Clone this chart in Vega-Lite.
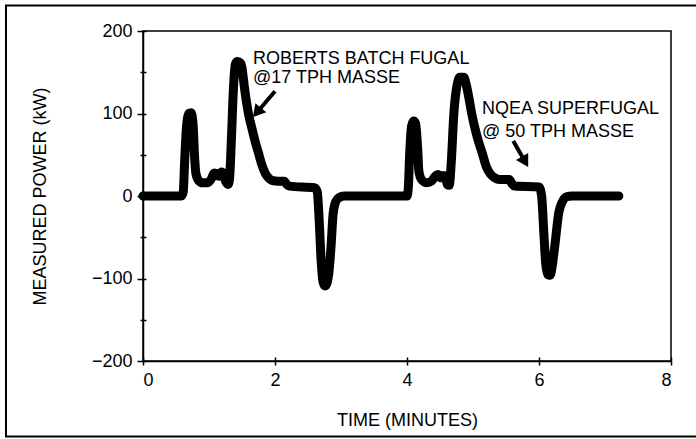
{
  "$schema": "https://vega.github.io/schema/vega-lite/v6.json",
  "width": 528,
  "height": 330,
  "autosize": {"type": "none"},
  "padding": {"left": 143, "top": 31, "right": 25, "bottom": 78},
  "background": "white",
  "config": {
    "font": "Liberation Sans",
    "view": {"stroke": "black", "strokeWidth": 1.5},
    "axis": {"domainColor": "black", "domainWidth": 1.5, "tickColor": "black", "tickWidth": 1.5, "labelColor": "black", "titleColor": "black", "grid": false, "labelFont": "Liberation Sans", "titleFont": "Liberation Sans", "titleFontWeight": "normal"}
  },
  "datasets": {
    "power": [
      {"t": 0, "kw": 0}, {"t": 0.58, "kw": 0}, {"t": 0.61, "kw": 5}, {"t": 0.63, "kw": 40}, {"t": 0.66, "kw": 85},
      {"t": 0.69, "kw": 100}, {"t": 0.73, "kw": 101}, {"t": 0.76, "kw": 85}, {"t": 0.78, "kw": 50}, {"t": 0.8, "kw": 28},
      {"t": 0.84, "kw": 19}, {"t": 0.9, "kw": 16}, {"t": 0.97, "kw": 16}, {"t": 1.03, "kw": 20}, {"t": 1.08, "kw": 28},
      {"t": 1.12, "kw": 27}, {"t": 1.15, "kw": 24}, {"t": 1.19, "kw": 29}, {"t": 1.22, "kw": 27}, {"t": 1.25, "kw": 18},
      {"t": 1.29, "kw": 14}, {"t": 1.31, "kw": 20}, {"t": 1.34, "kw": 70}, {"t": 1.37, "kw": 130}, {"t": 1.4, "kw": 160},
      {"t": 1.43, "kw": 163}, {"t": 1.48, "kw": 161}, {"t": 1.5, "kw": 155}, {"t": 1.53, "kw": 136}, {"t": 1.56, "kw": 118},
      {"t": 1.6, "kw": 99}, {"t": 1.65, "kw": 82}, {"t": 1.7, "kw": 66}, {"t": 1.75, "kw": 52}, {"t": 1.8, "kw": 38},
      {"t": 1.85, "kw": 28}, {"t": 1.9, "kw": 22}, {"t": 1.95, "kw": 19},
      {"t": 2.05, "kw": 18}, {"t": 2.14, "kw": 18}, {"t": 2.18, "kw": 14}, {"t": 2.22, "kw": 12}, {"t": 2.6, "kw": 10},
      {"t": 2.64, "kw": 5}, {"t": 2.67, "kw": -30}, {"t": 2.7, "kw": -80}, {"t": 2.73, "kw": -105}, {"t": 2.76, "kw": -109},
      {"t": 2.79, "kw": -105}, {"t": 2.82, "kw": -90}, {"t": 2.85, "kw": -60}, {"t": 2.88, "kw": -22}, {"t": 2.92, "kw": -7},
      {"t": 2.97, "kw": -2}, {"t": 3.05, "kw": 0}, {"t": 4.0, "kw": 0},
      {"t": 4.02, "kw": 10}, {"t": 4.04, "kw": 50}, {"t": 4.07, "kw": 85}, {"t": 4.1, "kw": 91}, {"t": 4.13, "kw": 88},
      {"t": 4.16, "kw": 60}, {"t": 4.18, "kw": 30}, {"t": 4.22, "kw": 20}, {"t": 4.3, "kw": 16}, {"t": 4.37, "kw": 18},
      {"t": 4.44, "kw": 25}, {"t": 4.47, "kw": 26}, {"t": 4.51, "kw": 22}, {"t": 4.55, "kw": 25}, {"t": 4.58, "kw": 24},
      {"t": 4.61, "kw": 14}, {"t": 4.64, "kw": 13}, {"t": 4.67, "kw": 40}, {"t": 4.71, "kw": 100}, {"t": 4.76, "kw": 135},
      {"t": 4.8, "kw": 144}, {"t": 4.86, "kw": 144}, {"t": 4.9, "kw": 134}, {"t": 4.94, "kw": 118}, {"t": 4.98, "kw": 100},
      {"t": 5.03, "kw": 82}, {"t": 5.08, "kw": 67}, {"t": 5.14, "kw": 52}, {"t": 5.2, "kw": 36}, {"t": 5.26, "kw": 27},
      {"t": 5.33, "kw": 22}, {"t": 5.4, "kw": 20},
      {"t": 5.55, "kw": 20}, {"t": 5.59, "kw": 15}, {"t": 5.63, "kw": 12}, {"t": 6.0, "kw": 11}, {"t": 6.04, "kw": 0},
      {"t": 6.07, "kw": -40}, {"t": 6.1, "kw": -80}, {"t": 6.13, "kw": -95}, {"t": 6.17, "kw": -96}, {"t": 6.2, "kw": -85},
      {"t": 6.24, "kw": -60}, {"t": 6.3, "kw": -20}, {"t": 6.36, "kw": -6}, {"t": 6.42, "kw": -1}, {"t": 6.5, "kw": 0},
      {"t": 7.21, "kw": 0}
    ],
    "labels": [
      {"t": 1.667, "kw": 159.4, "text": "ROBERTS BATCH FUGAL"},
      {"t": 1.667, "kw": 136.4, "text": "@17 TPH MASSE"},
      {"t": 5.136, "kw": 98.8, "text": "NQEA SUPERFUGAL"},
      {"t": 5.136, "kw": 72.1, "text": "@ 50 TPH MASSE"}
    ],
    "arrows": [
      {"t": 2.0, "kw": 127, "t2": 1.726, "kw2": 101.3, "angle": 220},
      {"t": 5.61, "kw": 66.7, "t2": 5.79, "kw2": 41.5, "angle": 150}
    ],
    "frame": [
      {"t": -2.076, "kw": 230.9, "t2": 8.7, "kw2": -291.5}
    ]
  },
  "layer": [
    {
      "data": {"name": "frame"},
      "mark": {"type": "rect", "fill": null, "fillOpacity": 0, "stroke": "black", "strokeWidth": 2, "clip": false},
      "encoding": {
        "x": {"field": "t", "type": "quantitative", "scale": {"domain": [0, 8], "nice": false, "zero": false}, "axis": null},
        "x2": {"field": "t2"},
        "y": {"field": "kw", "type": "quantitative", "scale": {"domain": [-200, 200], "nice": false}, "axis": null},
        "y2": {"field": "kw2"}
      }
    },
    {
      "data": {"name": "power"},
      "mark": {"type": "line", "color": "black", "strokeWidth": 9, "strokeCap": "round", "strokeJoin": "round", "interpolate": "monotone"},
      "encoding": {
        "x": {"field": "t", "type": "quantitative", "scale": {"domain": [0, 8], "nice": false, "zero": false},
          "axis": {"orient": "bottom", "values": [0, 2, 4, 6, 8], "title": "TIME (MINUTES)", "tickSize": 4, "labelFontSize": 18, "labelPadding": 6, "titleFontSize": 18, "titlePadding": 22}},
        "y": {"field": "kw", "type": "quantitative", "scale": {"domain": [-200, 200], "nice": false},
          "axis": {"orient": "left", "values": [-200, -100, 0, 100, 200], "title": "MEASURED POWER (kW)", "tickSize": 6, "labelFontSize": 18, "labelPadding": 5, "titleFontSize": 18, "titlePadding": 42}}
      }
    },
    {
      "mark": {"type": "rule", "color": "black", "strokeWidth": 1.5},
      "encoding": {
        "y": {"datum": 32, "type": "quantitative", "axis": {"orient": "left", "values": [-150, -50, 50, 150], "tickSize": 3, "labels": false, "domain": false, "title": null}}
      }
    },
    {
      "data": {"name": "arrows"},
      "mark": {"type": "rule", "color": "black", "strokeWidth": 4},
      "encoding": {
        "x": {"field": "t", "type": "quantitative", "axis": {"orient": "bottom", "values": [0, 2, 4, 6, 8], "tickSize": -4, "labels": false, "domain": false, "title": null}},
        "x2": {"field": "t2"},
        "y": {"field": "kw", "type": "quantitative", "axis": {"orient": "left", "values": [-200, -150, -100, -50, 0, 50, 100, 150, 200], "tickSize": -3, "labels": false, "domain": false, "title": null}},
        "y2": {"field": "kw2"}
      }
    },
    {
      "data": {"name": "arrows"},
      "mark": {"type": "point", "shape": "triangle-up", "filled": true, "color": "black", "size": 200, "opacity": 1},
      "encoding": {
        "x": {"field": "t2", "type": "quantitative", "axis": null},
        "y": {"field": "kw2", "type": "quantitative", "axis": null},
        "angle": {"field": "angle", "type": "quantitative", "scale": null}
      }
    },
    {
      "data": {"name": "labels"},
      "mark": {"type": "text", "align": "left", "baseline": "alphabetic", "fontSize": 18, "color": "black"},
      "encoding": {
        "x": {"field": "t", "type": "quantitative", "axis": null},
        "y": {"field": "kw", "type": "quantitative", "axis": null},
        "text": {"field": "text"}
      }
    }
  ],
  "resolve": {"axis": {"x": "independent", "y": "independent"}}
}
